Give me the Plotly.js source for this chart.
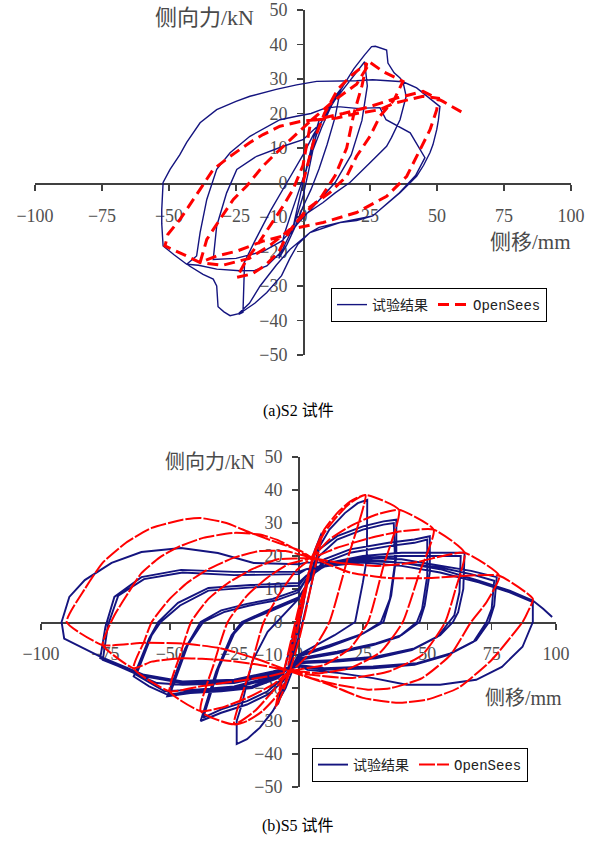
<!DOCTYPE html>
<html>
<head>
<meta charset="utf-8">
<script src="https://cdn.plot.ly/plotly-3.0.1.min.js"></script>
<style>html,body{margin:0;padding:0;background:#fff;}#chart{width:598px;height:841px;}</style>
</head>
<body>
<div id="chart"></div>
<script>
// ---------- tick values ----------
const xTicks = [-100, -75, -50, -25, 0, 25, 50, 75, 100];
const yTicks = [-50, -40, -30, -20, -10, 0, 10, 20, 30, 40, 50];
const seriesNames = ['试验结果', 'OpenSees'];
const captions = ['(a)S2 试件', '(b)S5 试件'];
const yTitle = '侧向力/kN';
const xTitle = '侧移/mm';

// ---------- (a) S2 : test result ----------
const s2ExpX = [0,2,4,6,4,2,0,-2,-4,-2,0,
 3,6,9,12,14,12,9,6,3,0,-3,-6,-9,-7,-4,-1,
 3,7,11,15,19,23,25.6,27,29,31.2,31.7,34,36.2,37.3,
 38.5,36.2,33,31.2,25,17.5,12,7.5,0,-4.9,-8,-13.5,-18,-23.5,-32.2,-39,-43.4,
 -39.7,-38.4,-35.9,-32.2,-27.2,-19.8,-8.6,-2.4,3,8,13,20,28.7,31,36,40,45.5,
 42,36,26,13.8,2.6,-4.9,-10,-16,-20,-24,-27.2,
 -29.5,-31.7,-32.2,-33.5,-37.3,-43.4,-48,-52.2,-52.7,-52.7,-52.2,-49.6,-46,-43.4,-38.4,-32.2,-25,-19.8,-10,-2.4,5.1,11.2,20,26,32,37.3,42.4,47,51.1,50.5,49.9,48.5,47.4,45,42.4,36.2,30,26,20,13.8,6,2.6,-2,-4.9,-8,-13.5,-18,-21,-24,
 -22.4,-22,-21.8,-18,-12,-6,0,4,8,12,16,20,23,
 24,22,18,12,5,-2,-8,-15,-25,-33.5,-32.2,-28.5,-24.7,-17.3,-7.4,0,5];
const s2ExpY = [0,7,13,18,10,3,-4,-9,-14,-7,0,
 9,16,21,25,27,19,11,4,-2,-7,-13,-18,-22,-15,-8,-1,
 8,16,23,28,33,37,39.4,39.5,39,38.4,34.6,31.8,30.3,29.2,
 25,18.2,13,10.5,5.7,0,-3,-5.8,-9.7,-15,-20,-24.2,-25.5,-25.6,-25.1,-24,-23.7,
 -21.3,-14.5,-4.9,3.8,8.6,13.4,18.2,19.2,20,21.5,22,21.5,21.7,18.2,16,14.4,7.2,
 2,-3,-9.7,-11.6,-14.5,-19.4,-24,-30,-35,-38,-38.6,
 -37.5,-36,-30,-28,-26.6,-23.7,-21,-18.4,-12,-7.8,0,3.8,8,11.6,17.3,21.1,23.5,25,27,28.3,29.3,29.3,29.5,29.8,29.5,29.2,27.4,24.5,22,18,15.3,11,8.7,5,1.8,-3,-7,-9.7,-11,-11.6,-13,-14.5,-18,-22,-27,-31.9,-35,-36.7,-38.2,
 -37.6,-30,-23,-17,-8,0,8,14,19,24,28,32,35,
 28,18,8,0,-6,-12,-17,-20,-22,-22.3,-12.6,-3,3.8,7.6,10.5,12.4,16];

// ---------- (a) S2 : OpenSees ----------
const s2SimX = [0,4,8,13,18,23.8,
 22,19,16.3,12,7,2,-3,-5,
 -9,-14,-19,-24.7,
 -21,-17.3,-12.3,-7.4,-3.7,0,3,
 12,20,23.8,25,29.8,37.3,
 34,28.7,25,20,16.3,10,1.4,-5,
 -7.4,-14.9,-24.7,-32.2,-38.4,
 -35.9,-31,-26,-21,-14.9,-9.8,-4.9,0,3,
 12.6,20,28.7,34,40,44.8,50.5,
 49.9,47.4,42.4,38.7,31.2,20,7.5,-4.9,
 -12,-20,-30,-38.4,-43.4,-51.5,
 -50.4,-45.9,-38.4,-33.5,-27.2,-19.8,-14.9,-8.6,-1.1,4.5,
 15,25,35,44.8,52.2,59.7];
const s2SimY = [0,12,20,27,31,34.6,
 28,20,10,2,-4,-8,-12,-14,
 -20,-24,-26.5,-27.5,
 -22.3,-18.4,-12.6,-6.8,-2,5,18,
 24,28.5,33,34.8,32.2,29.3,
 24,19.2,13.4,7.6,1.8,-2.9,-7.8,-14,
 -15.5,-17,-19.9,-21.3,-23.2,
 -16.5,-10.7,-4.9,-1,4.8,8.7,12.4,15.8,18,
 18.7,20,21.1,23,24,25,24.4,
 21.1,15.3,7.6,1.8,-4,-8.7,-11.6,-13.6,
 -18,-22,-24,-23.2,-21.3,-18.4,
 -15,-10.7,-2,3.8,7.6,11.6,13.9,16.3,17.7,18.2,
 20,22,24.5,26.4,23.5,20.2];

// ---------- (b) S5 : test result ----------
const s5ExpX = [0,2,4,2,0,-2,-4,-2,0,3,6,9,7,4,1,-2,-5,-8,-6,-3,0,
 3,6,12,18,23,26.7,
 26.6,26.5,25,22,14,5,0,
 -5,-10,-15,-20,-24,
 -24,-22,-18,-12,-5,0,3,
 8,15,25,33,38,
 38,36,33,25,12,0,
 -6,-12,-20,-30,-38,
 -32,-26,-22,-12,0,3,
 8,15,25,33,37,37.5,35.5,32,24,12,0,-6,-12,-20,-30,-37,-31,-25,-21,-11,0,3,
 10,20,35,45,51,
 51,49,47,40,30,15,0,
 -8,-18,-30,-42,-51,
 -44,-38,-30,-20,-10,0,3,
 10,20,35,45,50,50,48,46,39,29,15,0,-8,-18,-30,-42,-50,-43,-37,-29,-19,-9,0,3,
 12,25,40,55,64.5,
 64,62,60,55,45,30,15,0,
 -10,-25,-40,-51,-58,-64,
 -58,-54.5,-46.8,-35,-18.5,0,3,
 12,25,40,55,63,62.5,60.5,58.5,54,44,30,15,0,-10,-25,-40,-52,-63,-57,-53.5,-46,-35,-18,0,3,
 12,25,40,55,67,77,
 76,74,69,59,46,29,10,0,
 -10,-25,-45,-55,-64,-77,
 -75,-71.5,-61,-45.6,-25,0,3,
 12,25,40,55,67,76,75,73,68,58,45,29,10,0,-10,-25,-45,-60,-76,-74,-70,-60,-45,-25,0,3,
 12,25,40,55,70,82,91,
 91,87,79,69,55,42,29,16,3.5,0,
 -10,-25,-45,-60,-77,-91,
 -92,-89,-83,-72.6,-61,-45.6,-31.3,-17.4,0,3,
 12,25,40,55,70,82,91,95,98.5];
const s5ExpY = [0,8,15,6,-2,-8,-14,-6,1,12,21,27,18,8,-2,-10,-18,-25,-16,-7,2,
 12,20,28,33,36,37,
 25,19,12,0,-4,-8,-10,
 -20,-27,-32,-35.5,-37,
 -30,-25,-12,-3,3,7,11,
 22,26,29,30.5,31,
 20,8,0,-3.5,-7,-10,
 -18,-22,-25,-27.5,-30,
 -15,-4,0,3.5,7.5,11,
 20,25,28,29.5,30,18,7,0,-4,-7.5,-10.5,-17,-21,-24,-26.5,-29,-14,-3.5,0,3.2,7,11,
 19,22,24,25,26,
 15,5,0,-4,-6.5,-9,-11,
 -17,-20,-21,-21.5,-22.5,
 -8,0,3.5,5.5,7,9.7,13,
 18,21,23,24,25,14,4,0,-4.5,-7,-9.5,-11.5,-16.5,-19.5,-20.5,-21,-22,-7,0,3,5,6.5,9,13,
 18,20,21,21,21,
 10,3,0,-4,-8,-10.5,-11.5,-12,
 -17,-20,-21,-22,-19.5,-16.5,
 -5,0,5.8,10.3,11.2,11.8,14,
 17.5,19.5,20,20,20,9,2,0,-4.5,-8.5,-11,-12,-12.5,-16.5,-19.5,-20.5,-21,-16,-4,0,5,9.5,10.5,11,14,
 18,19.5,19,17,15.5,13.6,
 5,0,-5.5,-9.5,-12.5,-13.5,-14,-13,
 -16,-18.5,-19,-18.5,-15.5,-11,
 -1.5,7.6,13.6,15.8,15.2,15.2,16,
 17.5,18.5,18,16.5,14.5,12.5,4,0,-6,-10,-13,-14,-14.5,-13.5,-15.5,-18,-18.5,-16.5,-11.5,-1,8,13,15,14.2,14.5,16,
 17,18,17,15,12,9,6,
 0,-7.5,-13.6,-17.5,-19,-19,-17,-15.5,-14.5,-13,
 -15,-17.5,-18,-16,-10.5,-5,
 0,7.6,12.7,17.9,21.2,22.4,20.9,17.9,17.5,18,
 18,19,18,16,12.5,9.5,6.5,4,1.5];

// ---------- (b) S5 : OpenSees ----------
const s5SimX = [0,2,4,2,0,-2,-4,-2,0,3,6,9,6,3,0,-3,-6,-9,-6,-3,0,
 3,6,10,15,20,26,
 19,12,6,0,-3,
 -8,-14,-20,-25,
 -19,-13.5,-7,-1,5,
 10,15,20,26,39,
 33,27,20,10,-3,
 -10,-17,-25,-38,
 -33,-27.5,-20,-12,-4,5,
 12,20,30,39,52.5,
 47,40.5,32,20,8,-3,
 -10,-20,-30,-38,-50,
 -46,-41.7,-35,-27,-18,-8,5,
 15,28,40,52.5,64.5,
 61,57,48,35,20,5,-3,
 -12,-25,-38,-50,-64,
 -60,-57,-50,-43,-35,-25,-15,-5,5,
 15,30,45,56,64.5,78,
 73,67,59,48,36,27,15,5,-3,
 -15,-30,-45,-57,-64,-76,
 -74,-71,-66,-61,-54,-46.8,-37,-25,-15,-8,0,5,
 10,20,35,50,65,78,91,
 89,87,75,62,50,39,25,12,-3,
 -15,-30,-45,-60,-76,-90,
 -83,-76,-67,-57,-45,-38,-28,-18.5,-8,1,5];
const s5SimY = [0,7,14,6,-1,-8,-13,-5,2,11,20,26,15,4,-6,-14,-21,-26,-16,-6,4,
 12,21,28,33,36.5,38.5,
 19,0,-8,-13,-15,
 -22,-27,-30,-31,
 -15,0,9,15.5,19.5,
 27,32,36,38.5,34,
 17,0,-8,-13,-15,
 -21,-27,-31,-27,
 -13,0,8,13.5,17.5,19.5,
 25,29,32.5,34,28,
 15,0,-9,-14,-15.5,-15,
 -19,-23,-26,-27,-21,
 -10,0,7,12,16,19,19.5,
 22.5,25.5,27.5,28,21,
 10,0,-10,-15,-17,-16,-15,
 -16.5,-18,-19.5,-21,-14,
 -6,0,7,12,16,19.5,21.5,21.5,19.5,
 18,17,18,20,21,14,
 6,0,-10,-17,-20,-20.5,-19,-17,-15,
 -13,-11.5,-11,-12,-14,-7,
 -2,2.7,9,14.8,19.5,22.7,25.5,27,26.5,24.8,21.5,19.5,
 18,15,13.3,13.3,14,14,7,
 3,0,-11.5,-20,-23.5,-24.5,-23,-19,-15,
 -11.5,-8,-6.5,-6.3,-7,0,
 10,18,24,28.5,31,31.5,30,27,24,21.5,19.5];

// ---------- styles ----------
const blue = '#14147f';
const red = '#ff0000';

function axisStyle(extra) {
  return Object.assign({
    showgrid: false, zeroline: false, showline: true,
    linecolor: '#404040', linewidth: 1.5,
    ticks: 'outside', ticklen: 6, tickwidth: 1.5, tickcolor: '#404040',
    tickfont: {family: 'Liberation Serif, serif', size: 18, color: '#505050'},
    layer: 'below traces', fixedrange: true
  }, extra);
}

const traces = [
  {x: s2ExpX, y: s2ExpY, xaxis: 'x', yaxis: 'y', mode: 'lines', name: seriesNames[0],
   line: {color: blue, width: 1.4}, legend: 'legend'},
  {x: s2SimX, y: s2SimY, xaxis: 'x', yaxis: 'y', mode: 'lines', name: seriesNames[1],
   line: {color: red, width: 3, dash: '11px,6px'}, legend: 'legend'},
  {x: s5ExpX, y: s5ExpY, xaxis: 'x2', yaxis: 'y2', mode: 'lines', name: seriesNames[0],
   line: {color: blue, width: 1.9}, legend: 'legend2'},
  {x: s5SimX, y: s5SimY, xaxis: 'x2', yaxis: 'y2', mode: 'lines', name: seriesNames[1],
   line: {color: red, width: 2, dash: '16px,2px', shape: 'spline', smoothing: 0.5}, legend: 'legend2'}
];

const W = 598, H = 841;
const px = v => v / W, py = v => (H - v) / H;

const legendStyle = {
  orientation: 'h', xanchor: 'left', yanchor: 'top',
  bgcolor: '#ffffff', bordercolor: '#000000', borderwidth: 1,
  font: {family: 'Liberation Mono, Noto Sans CJK SC, monospace', size: 14, color: '#222'},
  itemwidth: 30, tracegroupgap: 0
};

const layout = {
  width: W, height: H,
  margin: {l: 0, r: 0, t: 0, b: 0},
  paper_bgcolor: '#ffffff', plot_bgcolor: 'rgba(0,0,0,0)',
  showlegend: true,
  xaxis: axisStyle({domain: [px(35), px(571)], range: [-100, 100], anchor: 'free', position: py(183),
    tickvals: xTicks, ticklabelstandoff: 10}),
  yaxis: axisStyle({domain: [py(355), py(10)], range: [-50, 50], anchor: 'free', position: px(303),
    tickvals: yTicks, ticklabelstandoff: 6}),
  xaxis2: axisStyle({domain: [px(41), px(556)], range: [-100, 100], anchor: 'free', position: py(622),
    tickvals: xTicks, ticklabelstandoff: 9}),
  yaxis2: axisStyle({domain: [py(787), py(457)], range: [-50, 50], anchor: 'free', position: px(298),
    tickvals: yTicks, ticklabelstandoff: 6}),
  legend: Object.assign({}, legendStyle, {x: px(331), y: py(288)}),
  legend2: Object.assign({}, legendStyle, {x: px(312), y: py(748)}),
  annotations: [
    {text: yTitle, xref: 'paper', yref: 'paper', x: px(256), y: py(18), xanchor: 'right', yanchor: 'middle',
     showarrow: false, font: {family: 'Liberation Serif, Noto Sans CJK SC', size: 22, color: '#4a4a4a'}},
    {text: xTitle, xref: 'paper', yref: 'paper', x: px(573), y: py(242), xanchor: 'right', yanchor: 'middle',
     showarrow: false, font: {family: 'Liberation Serif, Noto Sans CJK SC', size: 21, color: '#4a4a4a'}},
    {text: yTitle, xref: 'paper', yref: 'paper', x: px(257), y: py(462), xanchor: 'right', yanchor: 'middle',
     showarrow: false, font: {family: 'Liberation Serif, Noto Sans CJK SC', size: 20, color: '#4a4a4a'}},
    {text: xTitle, xref: 'paper', yref: 'paper', x: px(564), y: py(698), xanchor: 'right', yanchor: 'middle',
     showarrow: false, font: {family: 'Liberation Serif, Noto Sans CJK SC', size: 20, color: '#4a4a4a'}},
    {text: captions[0], xref: 'paper', yref: 'paper', x: px(298), y: py(411), xanchor: 'center', yanchor: 'middle',
     showarrow: false, font: {family: 'Liberation Serif, Noto Sans CJK SC', size: 16, color: '#000'}},
    {text: captions[1], xref: 'paper', yref: 'paper', x: px(298), y: py(826), xanchor: 'center', yanchor: 'middle',
     showarrow: false, font: {family: 'Liberation Serif, Noto Sans CJK SC', size: 16, color: '#000'}}
  ]
};

Plotly.newPlot('chart', traces, layout, {staticPlot: true, displayModeBar: false});
</script>
</body>
</html>
